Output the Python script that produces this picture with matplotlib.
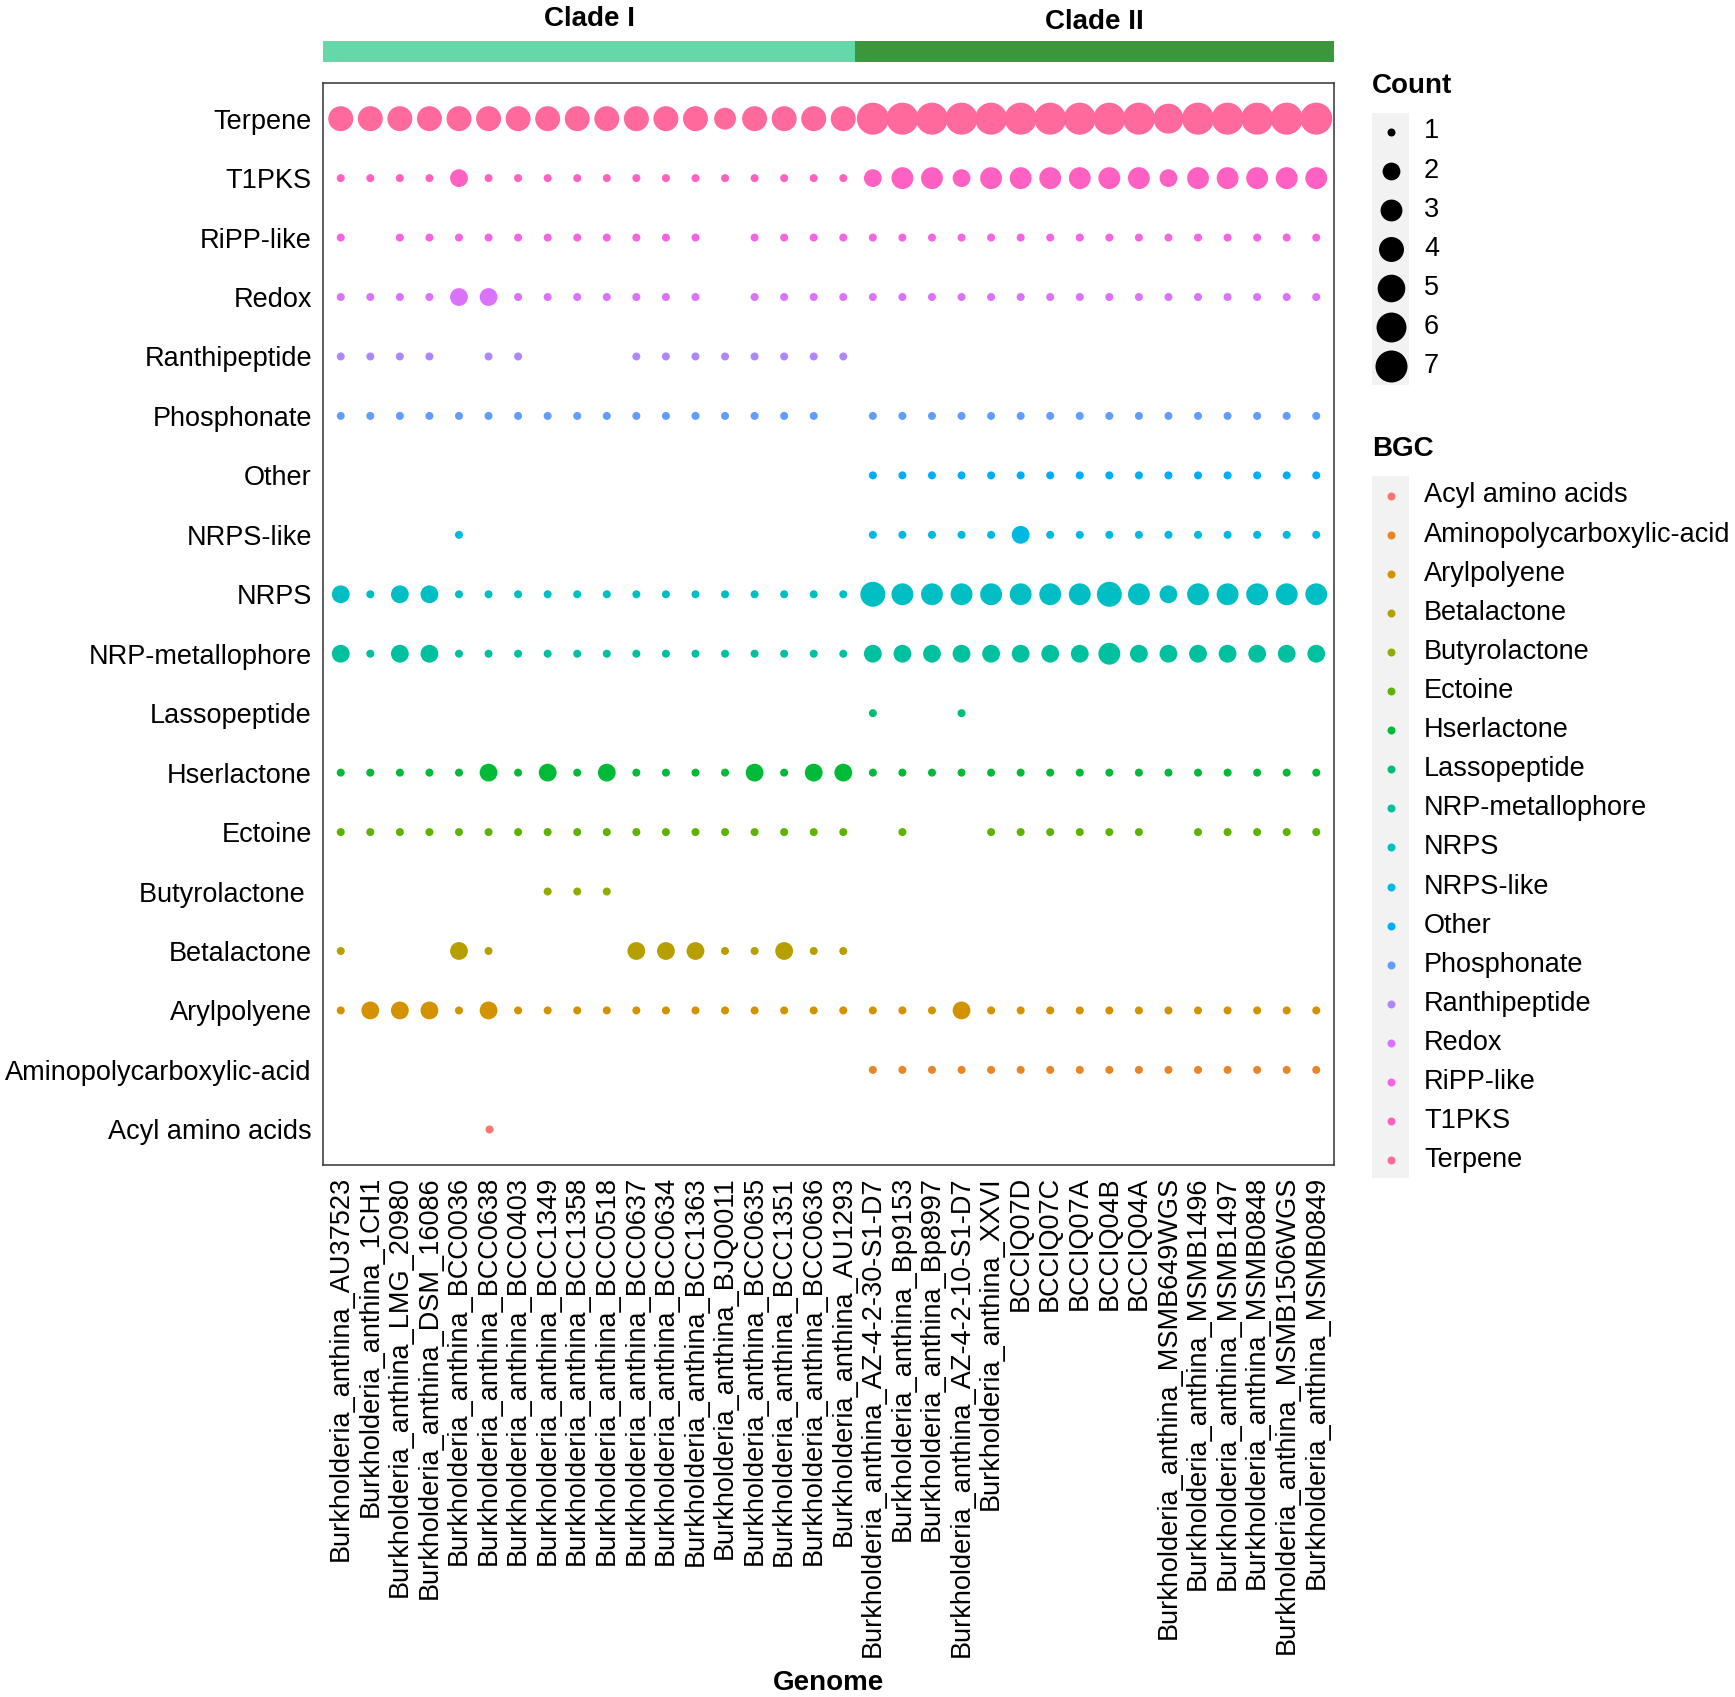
import math
import numpy as np
import matplotlib.pyplot as plt
from matplotlib.patches import Rectangle

plt.rcParams['font.family'] = ['Liberation Sans', 'DejaVu Sans']

# genomes (x axis), clade I first then clade II
genomes = [
    "Burkholderia_anthina_AU37523", "Burkholderia_anthina_1CH1",
    "Burkholderia_anthina_LMG_20980", "Burkholderia_anthina_DSM_16086",
    "Burkholderia_anthina_BCC0036", "Burkholderia_anthina_BCC0638",
    "Burkholderia_anthina_BCC0403", "Burkholderia_anthina_BCC1349",
    "Burkholderia_anthina_BCC1358", "Burkholderia_anthina_BCC0518",
    "Burkholderia_anthina_BCC0637", "Burkholderia_anthina_BCC0634",
    "Burkholderia_anthina_BCC1363", "Burkholderia_anthina_BJQ0011",
    "Burkholderia_anthina_BCC0635", "Burkholderia_anthina_BCC1351",
    "Burkholderia_anthina_BCC0636", "Burkholderia_anthina_AU1293",
    "Burkholderia_anthina_AZ-4-2-30-S1-D7", "Burkholderia_anthina_Bp9153",
    "Burkholderia_anthina_Bp8997", "Burkholderia_anthina_AZ-4-2-10-S1-D7",
    "Burkholderia_anthina_XXVI", "BCCIQ07D", "BCCIQ07C", "BCCIQ07A",
    "BCCIQ04B", "BCCIQ04A", "Burkholderia_anthina_MSMB649WGS",
    "Burkholderia_anthina_MSMB1496", "Burkholderia_anthina_MSMB1497",
    "Burkholderia_anthina_MSMB0848", "Burkholderia_anthina_MSMB1506WGS",
    "Burkholderia_anthina_MSMB0849",
]
clades = ["Clade I", "Clade II"]
clade_sizes = [18, 16]

# BGC classes, bottom to top (same as legend order)
bgc = ["Acyl amino acids", "Aminopolycarboxylic-acid", "Arylpolyene",
       "Betalactone", "Butyrolactone", "Ectoine", "Hserlactone",
       "Lassopeptide", "NRP-metallophore", "NRPS", "NRPS-like", "Other",
       "Phosphonate", "Ranthipeptide", "Redox", "RiPP-like", "T1PKS", "Terpene"]
bgc_ticklabels = [b if b != "Butyrolactone" else "Butyrolactone " for b in bgc]

# counts per genome (0 = absent)
acyl_amino_acids = [0,0,0,0,0,1,0,0,0,0,0,0,0,0,0,0,0,0, 0,0,0,0,0,0,0,0,0,0,0,0,0,0,0,0]
aminopolycarboxylic = [0,0,0,0,0,0,0,0,0,0,0,0,0,0,0,0,0,0, 1,1,1,1,1,1,1,1,1,1,1,1,1,1,1,1]
arylpolyene = [1,2,2,2,1,2,1,1,1,1,1,1,1,1,1,1,1,1, 1,1,1,2,1,1,1,1,1,1,1,1,1,1,1,1]
betalactone = [1,0,0,0,2,1,0,0,0,0,2,2,2,1,1,2,1,1, 0,0,0,0,0,0,0,0,0,0,0,0,0,0,0,0]
butyrolactone = [0,0,0,0,0,0,0,1,1,1,0,0,0,0,0,0,0,0, 0,0,0,0,0,0,0,0,0,0,0,0,0,0,0,0]
ectoine = [1,1,1,1,1,1,1,1,1,1,1,1,1,1,1,1,1,1, 0,1,0,0,1,1,1,1,1,1,0,1,1,1,1,1]
hserlactone = [1,1,1,1,1,2,1,2,1,2,1,1,1,1,2,1,2,2, 1,1,1,1,1,1,1,1,1,1,1,1,1,1,1,1]
lassopeptide = [0,0,0,0,0,0,0,0,0,0,0,0,0,0,0,0,0,0, 1,0,0,1,0,0,0,0,0,0,0,0,0,0,0,0]
nrp_metallophore = [2,1,2,2,1,1,1,1,1,1,1,1,1,1,1,1,1,1, 2,2,2,2,2,2,2,2,3,2,2,2,2,2,2,2]
nrps = [2,1,2,2,1,1,1,1,1,1,1,1,1,1,1,1,1,1, 4,3,3,3,3,3,3,3,4,3,2,3,3,3,3,3]
nrps_like = [0,0,0,0,1,0,0,0,0,0,0,0,0,0,0,0,0,0, 1,1,1,1,1,2,1,1,1,1,1,1,1,1,1,1]
other = [0,0,0,0,0,0,0,0,0,0,0,0,0,0,0,0,0,0, 1,1,1,1,1,1,1,1,1,1,1,1,1,1,1,1]
phosphonate = [1,1,1,1,1,1,1,1,1,1,1,1,1,1,1,1,1,0, 1,1,1,1,1,1,1,1,1,1,1,1,1,1,1,1]
ranthipeptide = [1,1,1,1,0,1,1,0,0,0,1,1,1,1,1,1,1,1, 0,0,0,0,0,0,0,0,0,0,0,0,0,0,0,0]
redox = [1,1,1,1,2,2,1,1,1,1,1,1,1,0,1,1,1,1, 1,1,1,1,1,1,1,1,1,1,1,1,1,1,1,1]
ripp_like = [1,0,1,1,1,1,1,1,1,1,1,1,1,0,1,1,1,1, 1,1,1,1,1,1,1,1,1,1,1,1,1,1,1,1]
t1pks = [1,1,1,1,2,1,1,1,1,1,1,1,1,1,1,1,1,1, 2,3,3,2,3,3,3,3,3,3,2,3,3,3,3,3]
terpene = [4,4,4,4,4,4,4,4,4,4,4,4,4,3,4,4,4,4, 7,7,7,7,7,7,7,7,7,7,6,7,7,7,7,7]

rows = [acyl_amino_acids, aminopolycarboxylic, arylpolyene, betalactone,
        butyrolactone, ectoine, hserlactone, lassopeptide, nrp_metallophore,
        nrps, nrps_like, other, phosphonate, ranthipeptide, redox, ripp_like,
        t1pks, terpene]
count_breaks = [1, 2, 3, 4, 5, 6, 7]


def hue_color(h, c=100.0, l=65.0):
    # ggplot-style hue palette (polar Luv -> sRGB)
    hr = math.radians(h)
    u, v = c * math.cos(hr), c * math.sin(hr)
    xn, yn, zn = 95.047, 100.0, 108.883
    un = 4 * xn / (xn + 15 * yn + 3 * zn)
    vn = 9 * yn / (xn + 15 * yn + 3 * zn)
    y = yn * ((l + 16) / 116) ** 3
    up, vp = u / (13 * l) + un, v / (13 * l) + vn
    x = y * 9 * up / (4 * vp)
    z = y * (12 - 3 * up - 20 * vp) / (4 * vp)
    x, y, z = x / 100, y / 100, z / 100
    rgb = [3.240479 * x - 1.537150 * y - 0.498535 * z,
           -0.969256 * x + 1.875992 * y + 0.041556 * z,
           0.055648 * x - 0.204043 * y + 1.057311 * z]
    out = []
    for ch in rgb:
        ch = 12.92 * ch if ch <= 0.0031308 else 1.055 * ch ** (1 / 2.4) - 0.055
        out.append(min(max(ch, 0), 1))
    return tuple(out)


colors = [hue_color(15 + 360 * i / len(bgc)) for i in range(len(bgc))]


def dot_size(n):
    # area scale, diameter in pixels -> points^2
    d = 8 + 24 * math.sqrt((n - 1) / 6)
    return (0.72 * d) ** 2


W, H = 1735, 1697
fig = plt.figure(figsize=(W / 100, H / 100), dpi=100)


def px_axes(l, t, r, b, **kw):
    return fig.add_axes([l / W, 1 - b / H, (r - l) / W, (b - t) / H], **kw)


# main dot plot
ax = px_axes(323, 83, 1334, 1165)
for i, row in enumerate(rows):
    xs = [j for j, n in enumerate(row) if n > 0]
    ss = [dot_size(n) for n in row if n > 0]
    ax.scatter(xs, [i] * len(xs), s=ss, color=colors[i], linewidths=0)
ax.set_xlim(-0.6, len(genomes) - 0.4)
ax.set_ylim(-0.6, len(bgc) - 0.4)
ax.set_xticks(range(len(genomes)))
ax.set_xticklabels(genomes, rotation=90, ha='center', va='top', fontsize=19.5)
ax.set_yticks(range(len(bgc)))
ax.set_yticklabels(bgc_ticklabels, fontsize=19.5)
ax.tick_params(length=0, pad=8)
for sp in ax.spines.values():
    sp.set_color('#333333')
    sp.set_linewidth(1.1)
ax.set_xlabel("Genome", fontsize=20, fontweight='bold', labelpad=10)

# clade bar
cax = px_axes(323, 41, 1334, 62, sharex=ax)
start = -0.6
for k, (name, n) in enumerate(zip(clades, clade_sizes)):
    end = start + n if k < len(clades) - 1 else len(genomes) - 0.4
    cax.add_patch(Rectangle((start, 0), end - start, 1,
                            color=['#64d8a9', '#3c963c'][k], lw=0))
    cax.text((start + end) / 2, 2.05 - 0.16 * k, name, ha='center', va='center',
             fontsize=20, fontweight='bold')
    start = end
cax.set_ylim(0, 1)
cax.axis('off')

# legends in pixel coordinates
ov = fig.add_axes([0, 0, 1, 1])
ov.set_xlim(0, W)
ov.set_ylim(H, 0)
ov.axis('off')

ov.text(1372, 86, "Count", fontsize=20, fontweight='bold', va='center', ha='left')
ov.add_patch(Rectangle((1372, 113), 37, 272, color='#f2f2f2', lw=0))
for k, n in enumerate(count_breaks):
    yy = 131.5 + 39.1 * k
    ov.scatter([1390.5], [yy], s=dot_size(n), color='black', linewidths=0)
    ov.text(1424, yy, str(n), fontsize=19.5, va='center', ha='left')

ov.text(1372, 449, "BGC", fontsize=20, fontweight='bold', va='center', ha='left')
ov.add_patch(Rectangle((1372, 476), 37, 702, color='#f2f2f2', lw=0))
for k, name in enumerate(bgc):
    yy = 495.5 + 39.1 * k
    ov.scatter([1390.5], [yy], s=dot_size(1), color=colors[k], linewidths=0)
    ov.text(1424, yy, name, fontsize=19.5, va='center', ha='left')

fig.savefig('out.png', dpi=100)
